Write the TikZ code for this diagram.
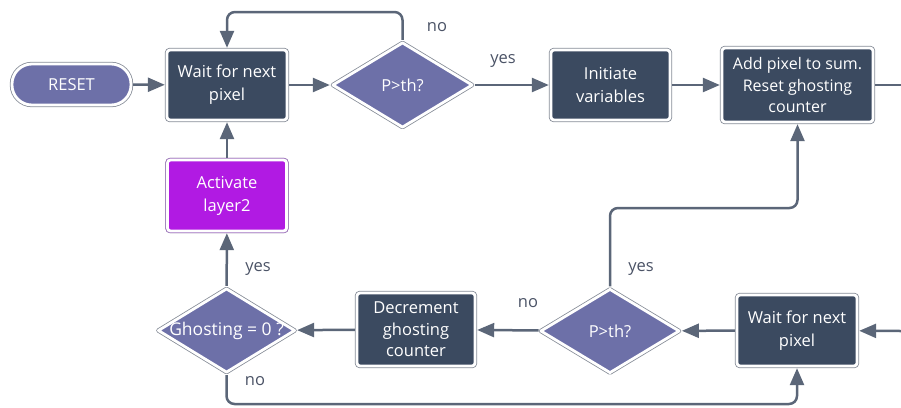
\documentclass[tikz,border=0pt]{standalone}
\usepackage{fontspec}
\setmainfont{Open Sans}
\usetikzlibrary{shapes.geometric,arrows.meta}

\definecolor{boxfill}{HTML}{3B4A60}
\definecolor{decfill}{HTML}{6D70A8}
\definecolor{actfill}{HTML}{B11AE3}
\definecolor{actrim}{HTML}{A070C0}
\definecolor{wire}{HTML}{5B6678}
\definecolor{rim}{HTML}{868C97}
\definecolor{lbl}{HTML}{4B5366}

\tikzset{
  framed/.style={preaction={draw=#1, line width=4.4pt}, draw=white, line width=2.8pt, outer sep=2.2pt},
  txt/.style={text=white, font=\fontsize{16.5}{23}\selectfont, align=center},
  box/.style={framed=rim, fill=boxfill, rounded corners=3pt, txt, inner sep=0pt,
              minimum width=120pt, minimum height=70pt},
  pill/.style={framed=rim, fill=decfill, rounded corners=20pt, txt, inner sep=0pt,
               minimum width=119pt, minimum height=41pt},
  decide/.style={shape=diamond, framed=rim, fill=decfill, line join=round, txt, inner sep=0pt,
                 minimum width=141pt, minimum height=86pt},
  wireline/.style={draw=wire, line width=2.5pt, rounded corners=8pt},
  arr/.style={wireline, -{Triangle[length=17pt,width=14pt]}},
  lbl/.style={text=lbl, font=\fontsize{16.5}{20}\selectfont, inner sep=0pt}
}

\begin{document}
\begin{tikzpicture}[x=1pt,y=-1pt]
\useasboundingbox (0,0) rectangle (901,407);

% levels of the return paths
\coordinate (topY) at (0,12);
\coordinate (midY) at (0,208);
\coordinate (botY) at (0,404);

% upper row
\node[pill] (reset) at (71.5,84.5) {RESET};
\node[box] (wait1) at (227,85) {Wait for next\\pixel};
\node[decide] (test1) at (402.5,85) {\makebox[0pt]{P>th?}};
\node[box, minimum width=119pt] (init) at (610.5,85) {Initiate\\variables};
\node[box, minimum width=151pt, minimum height=74pt, font=\fontsize{16}{21.5}\selectfont] (add) at (797.5,85)
  {Add pixel to sum.\\Reset ghosting\\counter};

% middle
\node[box, fill=actfill, framed=actrim, minimum width=119pt, minimum height=71pt] (act) at (227,195.5) {Activate\\layer2};

% lower row
\node[decide, minimum width=138pt, minimum height=85pt, font=\fontsize{17.5}{20}\selectfont] (ghost) at (226.5,330.5)
  {\makebox[0pt]{Ghosting = 0 ?}};
\node[box, minimum width=118pt, minimum height=73pt, font=\fontsize{16.5}{21.5}\selectfont] (dec) at (416,329.5)
  {Decrement\\ghosting\\counter};
\node[decide, minimum width=140pt, minimum height=85pt] (test2) at (610,331) {\makebox[0pt]{P>th?}};
\node[box, minimum height=71pt] (wait2) at (797,330.5) {Wait for next\\pixel};

% loose ends at the right margin
\coordinate (outR) at (901,85);
\coordinate (inR) at (901,331);

% connectors
\draw[arr] (reset) -- (wait1);
\draw[arr] (wait1) -- (test1);
\draw[arr] (test1.north) -- (test1.north |- topY) -| (wait1.north);
\draw[arr] (test1) -- (init);
\draw[arr] (init) -- (add);
\draw[wireline] (add) -- (outR);
\draw[arr] (inR) -- (wait2);
\draw[arr] (wait2) -- (test2);
\draw[arr] (test2) -- (dec);
\draw[arr] (test2.north) -- (test2.north |- midY) -| (add.south);
\draw[arr] (dec) -- (ghost);
\draw[arr] (ghost) -- (act);
\draw[arr] (act) -- (wait1);
\draw[arr] (ghost.south) -- (ghost.south |- botY) -| (wait2.south);

% branch labels
\node[lbl] (l1) at (437,27) {no};
\node[lbl] (l2) at (503,61) {yes};
\node[lbl] (l3) at (258,269) {yes};
\node[lbl] (l4) at (255,381) {no};
\node[lbl] (l5) at (528,303) {no};
\node[lbl] (l6) at (641,269) {yes};
\end{tikzpicture}
\end{document}
